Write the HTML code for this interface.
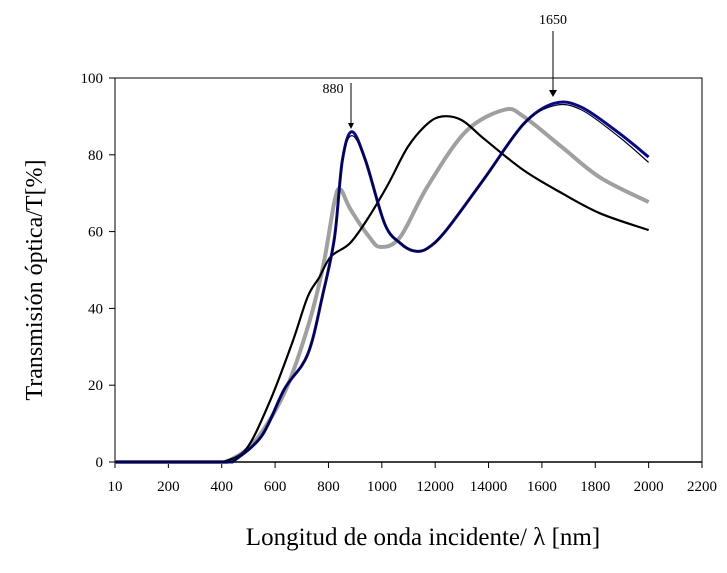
<!DOCTYPE html>
<html><head><meta charset="utf-8"><style>
body{margin:0;background:#fff;width:727px;height:568px;overflow:hidden;font-family:"Liberation Serif",serif}
svg text{font-family:"Liberation Serif",serif}
</style></head><body>
<svg id="chart" width="727" height="568" viewBox="0 0 727 568">
<rect x="115" y="78" width="587" height="384" fill="#fff" stroke="#000" stroke-width="1"/>
<g id="axes"></g>
<g id="series"></g>
<text transform="translate(42,280) rotate(-90)" text-anchor="middle" font-size="24">Transmisión óptica/T[%]</text>
<text x="423" y="545" text-anchor="middle" font-size="25">Longitud de onda incidente/ λ [nm]</text>
<text x="333" y="93" text-anchor="middle" font-size="14">880</text>
<line x1="351" y1="83" x2="351" y2="124" stroke="#000" stroke-width="1"/>
<polygon points="348,123 354,123 351,129" fill="#000"/>
<text x="553" y="24" text-anchor="middle" font-size="14">1650</text>
<line x1="553" y1="31" x2="553" y2="91" stroke="#000" stroke-width="1"/>
<polygon points="549,90 557,90 553,97" fill="#000"/>
</svg>
<script>
const xTickLabels=["10","200","400","600","800","1000","12000","14000","1600","1800","2000","2200"];
const yTickValues=[0,20,40,60,80,100];
const blackX=[404,491,578,664,722,765,809,881,953,1025,1097,1170,1227,1300,1386,1531,1675,1820,2000];
const blackY=[0,3.3,15.4,31,43,48,53.5,57,64,72.5,82,88,90,89,84,76,70,64.7,60.4];
const greyX=[419,520,635,722,780,823,845,881,953,996,1069,1170,1314,1458,1531,1675,1820,2000];
const greyY=[0,5,18,35,51,68,71,66,58.6,56,58.6,71.6,86,91.7,90,82,74,67.7];
const blueX=[440,549,635,722,780,823,852,888,939,1011,1069,1119,1170,1242,1386,1531,1646,1748,1892,2000];
const blueY=[0,6.7,19,28,44,58.6,78.5,86,78.5,62,57,55,55.6,60.4,74,88,93.4,92.4,85.5,79.4];
const navyX=[440,549,635,722,780,823,852,888,939,1011,1069,1119,1170,1242,1386,1531,1646,1748,1892,2000];
const navyY=[0,6.7,19,28,44,58.6,78.5,85,78.5,62,57,55,55.6,60.4,74,88,92.8,91.7,84.5,78];
const NS='http://www.w3.org/2000/svg';
const X=v=>115+v/2200*587;
const Y=v=>462-v/100*384;
const ax=document.getElementById('axes'),sr=document.getElementById('series');
function mk(t,a,p){const e=document.createElementNS(NS,t);for(const k in a)e.setAttribute(k,a[k]);p.appendChild(e);return e;}
xTickLabels.forEach((l,i)=>{const x=X(i*200);
 const t=mk('line',{x1:x,y1:462,x2:x,y2:468,stroke:'#000'},ax);
 
 
 const tx=mk('text',{x:x,y:491,'text-anchor':'middle','font-size':15},ax);tx.textContent=l;
 
 
});
yTickValues.forEach(v=>{const y=Y(v);
 const t=mk('line',{x1:109,y1:y,x2:115,y2:y,stroke:'#000'},ax);
 
 
 const tx=mk('text',{x:103,y:y+5,'text-anchor':'end','font-size':15},ax);tx.textContent=v;
 
 
});
function path(xs,ys){const p=xs.map((x,i)=>[X(x),Y(ys[i])]);
 let d='M'+p[0][0]+','+p[0][1];
 for(let i=0;i<p.length-1;i++){const p0=p[i-1]||p[i],p1=p[i],p2=p[i+1],p3=p[i+2]||p2;
  d+=' C'+(p1[0]+(p2[0]-p0[0])/6)+','+(p1[1]+(p2[1]-p0[1])/6)+' '+(p2[0]-(p3[0]-p1[0])/6)+','+(p2[1]-(p3[1]-p1[1])/6)+' '+p2[0]+','+p2[1];}
 return 'M'+X(0)+','+Y(0)+' L'+d.slice(1);}
const base=mk('line',{x1:X(0),y1:Y(0),x2:X(2200),y2:Y(0),stroke:'#000','stroke-width':1.5},sr);


const g=mk('path',{d:path(greyX,greyY),fill:'none',stroke:'#a0a0a0','stroke-width':4},sr);


const b=mk('path',{d:path(blackX,blackY),fill:'none',stroke:'#000','stroke-width':2.2},sr);


const bl=mk('path',{d:path(blueX,blueY),fill:'none',stroke:'#0a0a80','stroke-width':3},sr);


const nv=mk('path',{d:path(navyX,navyY),fill:'none',stroke:'#000030','stroke-width':1.2},sr);


</script>
</body></html>
